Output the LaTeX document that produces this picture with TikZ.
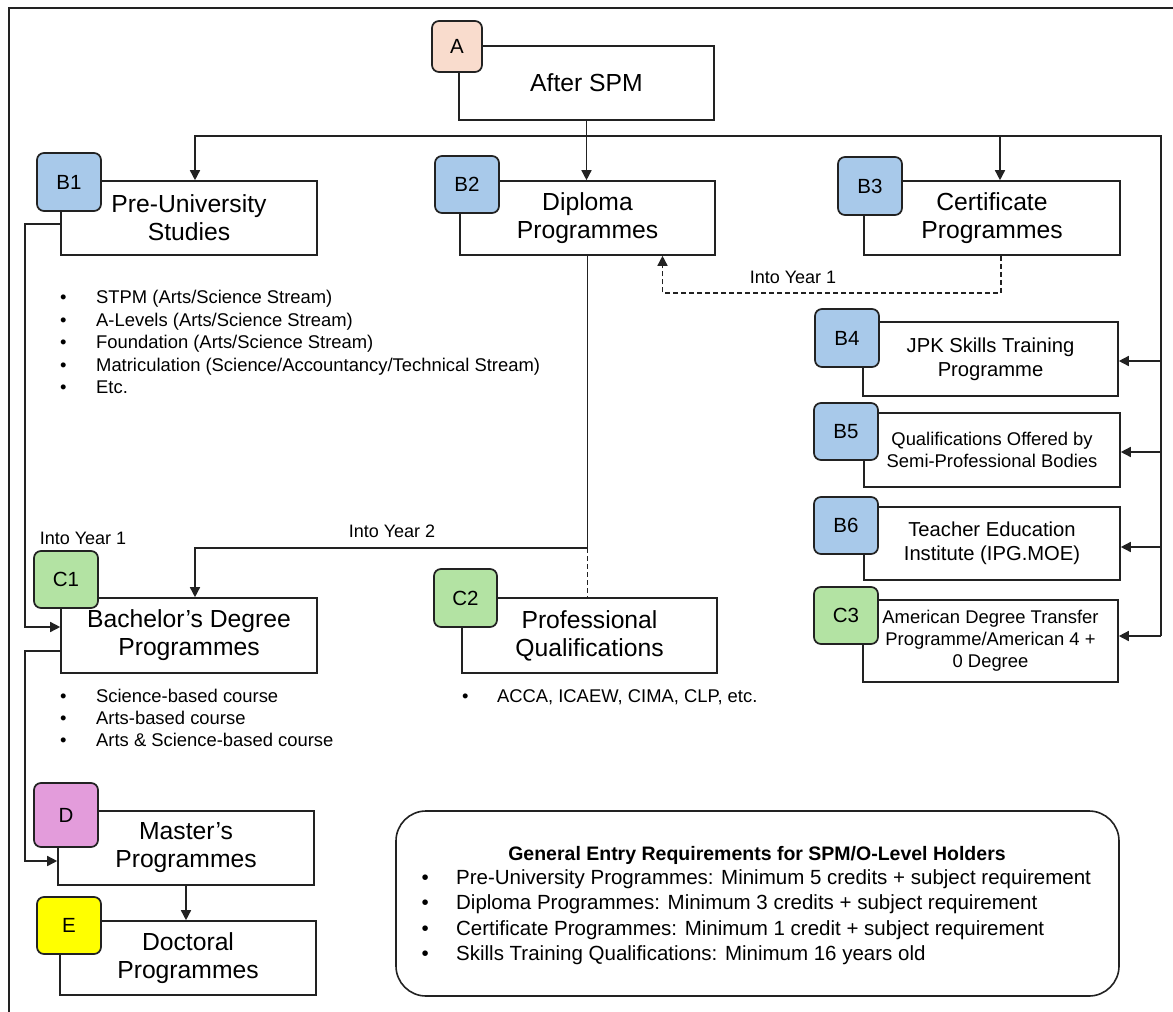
\documentclass[tikz,border=0pt]{standalone}
\usepackage{fontspec}
\setmainfont{Liberation Sans}
\usetikzlibrary{arrows.meta}
\definecolor{peach}{HTML}{F9DCCD}
\definecolor{bluebadge}{HTML}{A8C9EA}
\definecolor{greenbadge}{HTML}{B3E3A3}
\definecolor{pinkbadge}{HTML}{E39CDB}
\definecolor{yellowbadge}{HTML}{FFFF00}
\definecolor{ink}{HTML}{222222}
\newcommand\myfs[2]{\fontsize{#1pt}{#2pt}\selectfont}
\begin{document}
\begin{tikzpicture}[x=1pt,y=-1pt,
  box/.style={draw=ink, line width=1.6pt, fill=white, align=center, inner sep=0pt,
              minimum width=256pt, minimum height=74pt, font=\myfs{24.7}{28}},
  smallbox/.style={box, font=\myfs{18.4}{21.5}},
  midbox/.style={box, font=\myfs{20.2}{24}},
  badge/.style={draw=ink, line width=1.7pt, rounded corners=7pt, minimum width=64pt,
                minimum height=58pt, inner sep=0pt, font=\myfs{20.5}{24}},
  arr/.style={draw=ink, line width=1.5pt, -{Triangle[width=10pt,length=10pt]}},
  conn/.style={draw=ink, line width=1.5pt},
  dsh/.style={dash pattern=on 5pt off 3pt},
  lbl/.style={font=\myfs{18}{22}, inner sep=0pt},
]
\useasboundingbox (0,0) rectangle (1173,1012);
\fill[white] (0,0) rectangle (1173,1012);
\draw[ink, line width=2.2pt] (9,1016) -- (9,8) -- (1177,8);

% ---------- boxes ----------
\node[box, minimum width=255pt] (spm) at (586.5,83) {After SPM};
\node[box] (pre) at (189,218) {Pre-University\\Studies};
\node[box, minimum width=255pt] (dip) at (587.5,218) {Diploma\\Programmes};
\node[box] (cert) at (992,218) {Certificate\\Programmes};
\node[midbox, minimum width=255pt] (jpk) at (990.5,359) {JPK Skills Training\\Programme};
\node[smallbox] (semi) at (992,450) {Qualifications Offered by\\Semi-Professional Bodies};
\node[midbox, minimum height=73pt] (ipg) at (992,543.5) {Teacher Education\\Institute (IPG.MOE)};
\node[smallbox, minimum width=255pt, minimum height=82pt, font=\myfs{18.4}{22}] (adt) at (990.5,641) {American Degree Transfer\\Programme/American 4 +\\0 Degree};
\node[box, minimum height=75pt] (bach) at (189,635.5) {Bachelor’s Degree\\Programmes};
\node[box, minimum width=255pt, minimum height=75pt] (prof) at (589.5,635.5) {Professional\\Qualifications};
\node[box] (mast) at (186,848) {Master’s\\Programmes};
\node[box] (doc) at (188,958) {Doctoral\\Programmes};

% ---------- badges ----------
\node[badge, fill=peach, minimum width=50pt, minimum height=51pt] (bA) at (457,46.5) {A};
\node[badge, fill=bluebadge] (bB1) at (69,182) {B1};
\node[badge, fill=bluebadge, minimum height=57pt] (bB2) at (467,184.5) {B2};
\node[badge, fill=bluebadge] (bB3) at (870,186) {B3};
\node[badge, fill=bluebadge] (bB4) at (847,338) {B4};
\node[badge, fill=bluebadge, minimum height=57pt] (bB5) at (846,431.5) {B5};
\node[badge, fill=bluebadge, minimum height=57pt] (bB6) at (846,525.5) {B6};
\node[badge, fill=greenbadge, minimum height=57pt] (bC3) at (846,615.5) {C3};
\node[badge, fill=greenbadge, minimum height=57pt] (bC1) at (66,579.5) {C1};
\node[badge, fill=greenbadge, minimum width=63pt] (bC2) at (465.5,598) {C2};
\node[badge, fill=pinkbadge, minimum height=64pt] (bD) at (66,815) {D};
\node[badge, fill=yellowbadge, minimum height=57pt] (bE) at (69,925.5) {E};

% ---------- connectors ----------
\coordinate (bus) at (0,136);
\coordinate (rt) at (1161,136);
\coordinate (y2) at (0,548);
\draw[arr] (spm.south) -- (spm.south |- dip.north);
\draw[arr] (spm.south |- bus) -| ([xshift=6pt]pre.north);
\draw[arr] (spm.south |- bus) -| ([xshift=8pt]cert.north);
\draw[conn] (spm.south |- bus) -- (rt) -- ([yshift=5pt]rt |- adt.east);
\draw[arr] ([yshift=-2pt]rt |- jpk.east) -- ([yshift=-2pt]jpk.east);
\draw[arr] ([yshift=-2pt]rt |- semi.east) -- ([yshift=-2pt]semi.east);
\draw[arr] ([yshift=-3.5pt]rt |- ipg.east) -- ([yshift=-3.5pt]ipg.east);
\draw[arr] ([yshift=5pt]rt |- adt.east) -- ([yshift=5pt]adt.east);

\draw[arr, dsh] ([xshift=9pt]cert.south) -- ++(0,37) -| ([xshift=75pt]dip.south);
\node[lbl] (iy1a) at (793,277) {Into Year 1};

\draw[arr] (dip.south) -- (dip.south |- y2) -| ([xshift=6pt]bach.north);
\draw[conn, dsh] (dip.south |- y2) -- (dip.south |- prof.north);
\node[lbl] (iy2) at (392,531) {Into Year 2};

\draw[arr] ([yshift=-6pt]pre.west) -- ++(-35,0) |- ([yshift=8.5pt]bach.west);
\node[lbl] (iy1b) at (83,538) {Into Year 1};
\draw[arr] ([yshift=-15.5pt]bach.west) -- ++(-35,0) |- ([yshift=-13pt]mast.west);
\draw[arr] (mast.south) -- (mast.south |- doc.north);

% ---------- lists ----------
\node[anchor=base west, inner sep=0pt, font=\myfs{18.4}{22.5}] (prelist) at (60,303.6)
 {\begin{tabular}[t]{@{}p{36pt}@{}l@{}}
  \textbullet & STPM (Arts/Science Stream)\\
  \textbullet & A-Levels (Arts/Science Stream)\\
  \textbullet & Foundation (Arts/Science Stream)\\
  \textbullet & Matriculation (Science/Accountancy/Technical Stream)\\
  \textbullet & Etc.
  \end{tabular}};
\node[anchor=base west, inner sep=0pt, font=\myfs{18.4}{22}] (bachlist) at (60,702.6)
 {\begin{tabular}[t]{@{}p{36pt}@{}l@{}}
  \textbullet & Science-based course\\
  \textbullet & Arts-based course\\
  \textbullet & Arts \& Science-based course
  \end{tabular}};
\node[anchor=base west, inner sep=0pt, font=\myfs{18.4}{22}] (proflist) at (461.8,702.6)
 {\begin{tabular}[t]{@{}p{35pt}@{}l@{}}
  \textbullet & ACCA, ICAEW, CIMA, CLP, etc.
  \end{tabular}};

% ---------- requirements ----------
\node[draw=ink, line width=1.6pt, rounded corners=30pt, minimum width=723pt,
      minimum height=185pt] (req) at (757.5,903.5) {};
\node[anchor=base, inner sep=0pt, font=\bfseries\myfs{19.5}{24}] (reqtitle) at (757,860)
 {General Entry Requirements for SPM/O-Level Holders};
\node[anchor=base west, inner sep=0pt, font=\myfs{20.5}{25.3}] (reqlist) at (421.5,884.4)
 {\begin{tabular}[t]{@{}p{34.5pt}@{}l@{}}
  \textbullet & Pre-University Programmes: Minimum 5 credits + subject requirement\\
  \textbullet & Diploma Programmes: Minimum 3 credits + subject requirement\\
  \textbullet & Certificate Programmes: Minimum 1 credit + subject requirement\\
  \textbullet & Skills Training Qualifications: Minimum 16 years old
  \end{tabular}};
\end{tikzpicture}
\end{document}
